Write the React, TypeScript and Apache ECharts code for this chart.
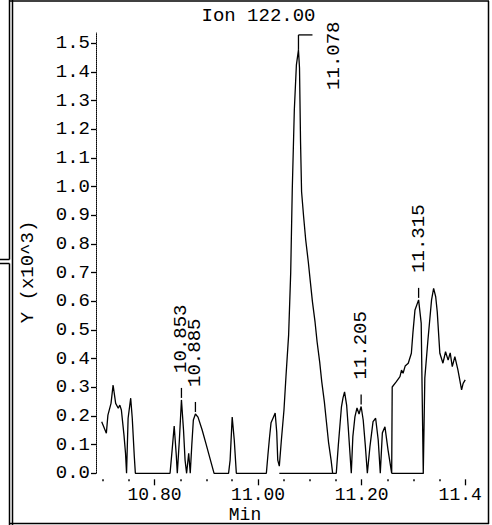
import React, { useEffect, useRef } from "react";
import * as echarts from "echarts";

// ---- data ----
const traceTimes = [
  10.698, 10.707, 10.71, 10.716, 10.72, 10.725, 10.73, 10.733, 10.736, 10.741, 10.744, 10.746,
  10.749, 10.754, 10.757, 10.761, 10.763,
  10.83, 10.834, 10.838, 10.842, 10.844, 10.848, 10.852, 10.856, 10.859, 10.862, 10.866, 10.869,
  10.872, 10.875, 10.879, 10.884, 10.892, 10.9, 10.908, 10.915,
  10.943, 10.946, 10.95, 10.954, 10.958,
  11.016, 11.019, 11.022, 11.025, 11.029, 11.033, 11.036, 11.038, 11.041,
  11.045, 11.05, 11.054, 11.059, 11.063, 11.066, 11.07, 11.074, 11.078, 11.08, 11.082, 11.084,
  11.088, 11.092, 11.097, 11.101, 11.105, 11.11, 11.114, 11.119, 11.123, 11.128, 11.132, 11.136,
  11.141, 11.144,
  11.151, 11.155, 11.161, 11.164, 11.167, 11.171, 11.174, 11.177, 11.18, 11.183, 11.187, 11.191,
  11.195, 11.199, 11.203, 11.207, 11.211, 11.216, 11.222, 11.227, 11.232, 11.236, 11.24, 11.245,
  11.251, 11.258,
  11.259, 11.267, 11.274, 11.277, 11.28, 11.284, 11.29, 11.296, 11.299, 11.303, 11.31, 11.315,
  11.319, 11.322, 11.328, 11.335, 11.339, 11.343, 11.346, 11.351, 11.357, 11.362, 11.367, 11.371,
  11.375, 11.38, 11.386, 11.393, 11.396, 11.4,
];
const traceValues = [
  0.18, 0.14, 0.203, 0.244, 0.308, 0.244, 0.227, 0.238, 0.221, 0.134, 0.07, 0,
  0.192, 0.262, 0.193, 0.058, 0,
  0, 0.081, 0.165, 0.064, 0, 0.116, 0.256, 0.151, 0.046, 0, 0.07, 0,
  0.099, 0.186, 0.207, 0.196, 0.151, 0.099, 0.046, 0,
  0, 0.046, 0.196, 0.116, 0,
  0, 0.064, 0.123, 0.176, 0.193, 0.21, 0.144, 0.046, 0.025,
  0.116, 0.221, 0.342, 0.483, 0.7, 0.988, 1.268, 1.425, 1.477, 1.414, 1.156, 0.982,
  0.894, 0.814, 0.737, 0.667, 0.598, 0.528, 0.458, 0.388, 0.319, 0.249, 0.179, 0.109,
  0.046, 0,
  0, 0.099, 0.232, 0.263, 0.284, 0.238, 0.163, 0.081, 0, 0.128, 0.197, 0.228,
  0.207, 0.233, 0.186, 0.099, 0, 0.093, 0.18, 0.192, 0.116, 0, 0.141, 0.162,
  0.081, 0,
  0.301, 0.32, 0.337, 0.36, 0.349, 0.374, 0.384, 0.419, 0.49, 0.57, 0.605, 0.524,
  0, 0.333, 0.465, 0.605, 0.645, 0.616, 0.563, 0.419, 0.384, 0.424, 0.395, 0.42,
  0.372, 0.407, 0.36, 0.291, 0.314, 0.326,
];
const baselineStarts = [11.041, 11.258];
const baselineEnds = [11.144, 11.32];

const peakTimes = [10.852, 10.879, 11.078, 11.199, 11.31];
const peakHeights = [0.256, 0.207, 1.477, 0.233, 0.605];
const peakLabels = ["10.853", "10.885", "11.078", "11.205", "11.315"];
const peakFlag = [false, false, true, false, false];

const yTicks = [0, 0.1, 0.2, 0.3, 0.4, 0.5, 0.6, 0.7, 0.8, 0.9, 1.0, 1.1, 1.2, 1.3, 1.4, 1.5];
const yTickLabels = ["0.0", "0.1", "0.2", "0.3", "0.4", "0.5", "0.6", "0.7", "0.8", "0.9", "1.0", "1.1", "1.2", "1.3", "1.4", "1.5"];
const xMajorTicks = [10.8, 11.0, 11.2, 11.4];
const xMajorLabels = ["10.80", "11.00", "11.20", "11.4"];
const xMinorTicks = [10.7, 10.75, 10.85, 10.9, 10.95, 11.05, 11.1, 11.15, 11.25, 11.3, 11.35];

const titleText = "Ion 122.00";
const yName = "Y (x10^3)";
const xName = "Min";

const X_MIN = 10.687;
const X_MAX = 11.444;
const Y_MAX = 1.536;

const FONT = "Liberation Mono";
const FS = 19;
const FSB = 18;
const LH = 14;

function nearestIndex(arr: number[], v: number) {
  let best = 0;
  for (let i = 1; i < arr.length; i++) if (Math.abs(arr[i] - v) < Math.abs(arr[best] - v)) best = i;
  return best;
}

export default function App() {
  const ref = useRef<HTMLDivElement>(null);
  useEffect(() => {
    if (!ref.current) return;
    const chart = echarts.init(ref.current, undefined, { renderer: "svg" });
    const txt = { fontFamily: FONT, fontSize: FS, color: "#000" };
    const frame = { stroke: "#000", lineWidth: 1.5 };
    const lines = [
      [9.5, 1, 489, 1],
      [488.5, 1, 488.5, 524],
      [9.5, 523.5, 489, 523.5],
      [12.5, 0, 12.5, 525],
      [9.5, 0, 9.5, 259.5],
      [0, 259.5, 9.5, 259.5],
      [0, 263.5, 9.5, 263.5],
      [9.5, 263.5, 9.5, 525],
    ];
    const option: any = {
      animation: false,
      backgroundColor: "#fff",
      grid: { left: 96, right: 4, top: 33, bottom: 51.7, containLabel: false, outerBoundsMode: "none" },
      xAxis: [
        {
          type: "value",
          min: X_MIN,
          max: X_MAX,
          position: "bottom",
          offset: 6,
          axisLine: { show: false, onZero: false },
          splitLine: { show: false },
          axisTick: { show: true, length: 6, customValues: xMajorTicks, lineStyle: { color: "#000", width: 1.3 } },
          axisLabel: {
            fontFamily: FONT,
            fontSize: FSB,
            color: "#000",
            lineHeight: LH,
            margin: 9,
            hideOverlap: false,
            customValues: xMajorTicks,
            formatter: (v: number) => {
              const i = nearestIndex(xMajorTicks, v);
              return i === xMajorTicks.length - 1 ? "{r|" + xMajorLabels[i] + "}" : xMajorLabels[i];
            },
            rich: { r: { fontFamily: FONT, fontSize: FSB, lineHeight: LH, color: "#000", padding: [0, 10, 0, 0] } },
          },
        },
        {
          type: "value",
          min: X_MIN,
          max: X_MAX,
          position: "bottom",
          offset: 6,
          axisLine: { show: false, onZero: false },
          splitLine: { show: false },
          axisTick: { show: true, length: 2, customValues: xMinorTicks, lineStyle: { color: "#000", width: 1.5 } },
          axisLabel: { show: false },
        },
      ],
      yAxis: {
        type: "value",
        min: 0,
        max: Y_MAX,
        axisLine: { show: true, onZero: false, lineStyle: { color: "#000", width: 1, type: [1, 1] } },
        axisTick: { show: true, length: 5, customValues: yTicks, lineStyle: { color: "#000", width: 1.3 } },
        axisLabel: {
          ...txt,
          lineHeight: LH,
          margin: 6,
          customValues: yTicks,
          formatter: (v: number) => yTickLabels[nearestIndex(yTicks, v)],
        },
        splitLine: { show: false },
      },
      graphic: [
        ...lines.map((l) => ({ type: "line", silent: true, shape: { x1: l[0], y1: l[1], x2: l[2], y2: l[3] }, style: frame })),
        {
          type: "text",
          x: 258.5,
          y: 16,
          style: { text: titleText, fill: "#000", fontFamily: FONT, fontSize: FS, lineHeight: LH, align: "center", verticalAlign: "middle" },
        },
        {
          type: "text",
          x: 28,
          y: 272,
          rotation: Math.PI / 2,
          style: { text: yName, fill: "#000", fontFamily: FONT, fontSize: FS, lineHeight: LH, align: "center", verticalAlign: "middle" },
        },
        {
          type: "text",
          x: 245,
          y: 514.5,
          style: { text: xName, fill: "#000", fontFamily: FONT, fontSize: FSB, lineHeight: LH, align: "center", verticalAlign: "middle" },
        },
      ],
      series: [
        {
          type: "line",
          xAxisIndex: 0,
          data: traceTimes.map((t, i) => [t, traceValues[i]]),
          symbol: "none",
          lineStyle: { color: "#000", width: 1.3 },
          silent: true,
        },
        ...baselineStarts.map((s, i) => ({
          type: "line",
          xAxisIndex: 0,
          data: [
            [s, 0],
            [baselineEnds[i], 0],
          ],
          symbol: "none",
          lineStyle: { color: "#000", width: 1.3 },
          silent: true,
        })),
        {
          type: "custom",
          xAxisIndex: 0,
          silent: true,
          data: peakTimes.map((t, i) => [t, peakHeights[i]]),
          renderItem: (params: any, api: any) => {
            const i = params.dataIndex;
            const p = api.coord([api.value(0), api.value(1)]);
            const stroke = { stroke: "#000", lineWidth: 1.3 };
            const ts = {
              fill: "#000",
              fontFamily: FONT,
              fontSize: FS,
              lineHeight: LH,
              align: "left",
              verticalAlign: "middle",
              text: peakLabels[i],
            };
            if (peakFlag[i]) {
              return {
                type: "group",
                children: [
                  { type: "line", shape: { x1: p[0], y1: p[1], x2: p[0], y2: p[1] - 15 }, style: stroke },
                  { type: "line", shape: { x1: p[0], y1: p[1] - 15, x2: p[0] + 14, y2: p[1] - 15 }, style: stroke },
                  { type: "text", x: p[0] + 36, y: p[1] + 40, rotation: Math.PI / 2, style: ts },
                ],
              };
            }
            return {
              type: "group",
              children: [
                { type: "line", shape: { x1: p[0], y1: p[1] - 2, x2: p[0], y2: p[1] - 12 }, style: stroke },
                { type: "text", x: p[0], y: p[1] - 27, rotation: Math.PI / 2, style: ts },
              ],
            };
          },
        },
      ],
    };
    chart.setOption(option);
    return () => chart.dispose();
  }, []);
  return (
    <div
      ref={ref}
      style={{ position: "fixed", left: 0, top: 0, width: 492, height: 525, background: "#fff" }}
    />
  );
}
